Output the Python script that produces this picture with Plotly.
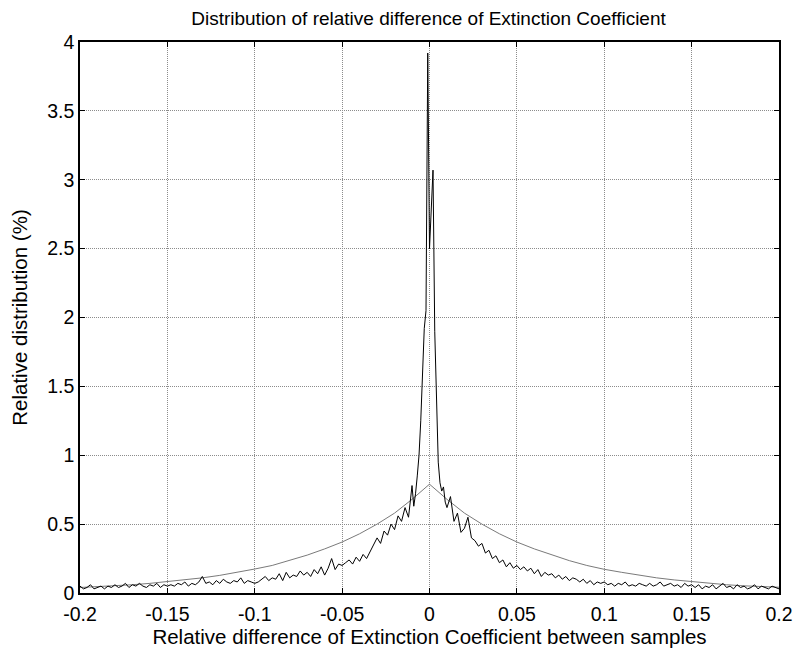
import plotly.graph_objects as go

# ---- data ----
# smooth gray reference curve, sampled every 0.01
gray_x = [round(-0.20 + 0.01 * i, 3) for i in range(41)]
gray_half = [0.04, 0.045, 0.052, 0.06, 0.07, 0.082, 0.095, 0.11, 0.128, 0.15,
             0.174, 0.20, 0.235, 0.275, 0.32, 0.37, 0.43, 0.50, 0.58, 0.68]
gray_peak = [0.79]
gray_right = [0.68, 0.58, 0.50, 0.43, 0.37, 0.32, 0.275, 0.235, 0.20, 0.172,
              0.15, 0.128, 0.11, 0.095, 0.082, 0.07, 0.06, 0.052, 0.046, 0.042]
gray_y = gray_half + gray_peak + gray_right

# noisy black histogram, left wing (-0.200 .. -0.010 step 0.002)
black_left = [
    0.05, 0.03, 0.04, 0.06, 0.03, 0.04, 0.05, 0.03, 0.05, 0.04,
    0.06, 0.04, 0.05, 0.07, 0.04, 0.06, 0.05, 0.07, 0.05, 0.04,
    0.06, 0.05, 0.07, 0.04, 0.06, 0.05,
    0.06, 0.05, 0.07, 0.06, 0.08, 0.05, 0.07, 0.06, 0.08, 0.12,
    0.07, 0.08, 0.06, 0.09, 0.07, 0.10, 0.08, 0.07, 0.09, 0.08,
    0.11, 0.07, 0.09, 0.08, 0.07,
    0.08, 0.10, 0.12, 0.09, 0.11, 0.10, 0.14, 0.09, 0.15, 0.11,
    0.13, 0.12, 0.16, 0.13, 0.15, 0.12, 0.17, 0.14, 0.19, 0.13,
    0.18, 0.25, 0.17, 0.21, 0.20,
    0.22, 0.24, 0.21, 0.26, 0.23, 0.28, 0.25, 0.30, 0.34, 0.40,
    0.36, 0.45, 0.42, 0.50, 0.46, 0.56, 0.52, 0.62, 0.55, 0.78,
]
# central part (-0.009 .. 0.009 step 0.001)
black_center_x = [-0.009, -0.008, -0.007, -0.006, -0.005, -0.004, -0.003, -0.002, -0.001,
                  0.0, 0.001, 0.002, 0.003, 0.004, 0.005, 0.006, 0.007, 0.008, 0.009]
black_center = [0.63, 0.72, 0.85, 1.00, 1.25, 1.55, 1.92, 2.05, 3.92,
                2.50, 2.75, 3.07, 1.90, 1.35, 0.95, 0.80, 0.74, 0.77, 0.66]
# right wing (0.010 .. 0.200 step 0.002)
black_right = [
    0.62, 0.70, 0.52, 0.58, 0.44, 0.47, 0.55, 0.40, 0.38, 0.34,
    0.36, 0.29, 0.31, 0.25, 0.27, 0.22, 0.24, 0.19, 0.22, 0.18,
    0.20, 0.17, 0.19, 0.16, 0.18, 0.14, 0.17, 0.12, 0.15, 0.13,
    0.14, 0.11, 0.13, 0.10, 0.12, 0.09, 0.11, 0.10, 0.08, 0.10,
    0.07, 0.09, 0.06, 0.08, 0.07, 0.08,
    0.06, 0.07, 0.05, 0.07, 0.06, 0.08, 0.05, 0.06, 0.05, 0.07,
    0.06, 0.05, 0.07, 0.05, 0.06, 0.08, 0.05, 0.06, 0.07, 0.05,
    0.06, 0.04, 0.07, 0.05, 0.06,
    0.04, 0.06, 0.03, 0.05, 0.04, 0.06, 0.03, 0.05, 0.07, 0.04,
    0.05, 0.03, 0.06, 0.04, 0.05, 0.03, 0.04, 0.06, 0.03, 0.05,
    0.04, 0.03, 0.05, 0.04, 0.03,
]
black_left_x = [round(-0.200 + 0.002 * i, 3) for i in range(len(black_left))]
black_right_x = [round(0.010 + 0.002 * i, 3) for i in range(len(black_right))]
black_x = black_left_x + black_center_x + black_right_x
black_y = black_left + black_center + black_right

x_tickvals = [-0.2, -0.15, -0.1, -0.05, 0, 0.05, 0.1, 0.15, 0.2]
x_ticktext = ["-0.2", "-0.15", "-0.1", "-0.05", "0", "0.05", "0.1", "0.15", "0.2"]
y_tickvals = [0, 0.5, 1, 1.5, 2, 2.5, 3, 3.5, 4]
y_ticktext = ["0", "0.5", "1", "1.5", "2", "2.5", "3", "3.5", "4"]

FONT = "Liberation Sans, Arial, sans-serif"

fig = go.Figure()
fig.add_trace(go.Scatter(x=gray_x, y=gray_y, mode="lines",
                         line=dict(color="#7a7a7a", width=1), showlegend=False))
fig.add_trace(go.Scatter(x=black_x, y=black_y, mode="lines",
                         line=dict(color="#000000", width=1), showlegend=False))

axis_common = dict(showline=True, linecolor="black", linewidth=1.5, mirror="ticks",
                   ticks="inside", ticklen=5, tickcolor="black", automargin=False,
                   showgrid=True, gridcolor="#8c8c8c", griddash="1px,1px", gridwidth=1,
                   zeroline=False, tickfont=dict(family=FONT, size=19.5, color="black"))

fig.update_layout(
    width=795, height=652,
    margin=dict(l=80, r=16, t=42, b=59),
    paper_bgcolor="white", plot_bgcolor="white",
    font=dict(family=FONT, color="black"),
    title=dict(text="Distribution of relative difference of Extinction Coefficient",
               x=0.539, xanchor="center", y=1 - 18 / 652, yanchor="middle",
               font=dict(family=FONT, size=19, color="black")),
    xaxis=dict(range=[-0.2, 0.2], tickmode="array", tickvals=x_tickvals, ticktext=x_ticktext,
               ticklabelstandoff=3,
               title=dict(text="Relative difference of Extinction Coefficient between samples",
                          font=dict(family=FONT, size=20.5), standoff=2),
               **axis_common),
    yaxis=dict(range=[0, 4], tickmode="array", tickvals=y_tickvals, ticktext=y_ticktext,
               title=dict(text="Relative distribution (%)", font=dict(family=FONT, size=20.5), standoff=14),
               **axis_common),
)

fig.write_html("out.html")
